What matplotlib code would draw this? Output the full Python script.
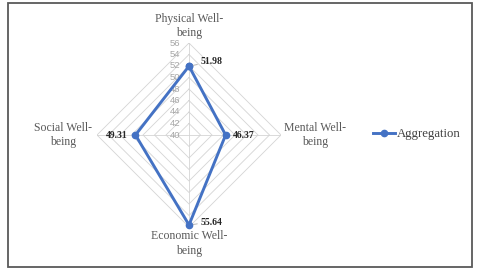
import matplotlib
matplotlib.use('Agg')
import matplotlib.pyplot as plt
from matplotlib.patches import Rectangle
import numpy as np

# data
categories = ['Physical Well-\nbeing', 'Mental Well-\nbeing',
              'Economic Well-\nbeing', 'Social Well-\nbeing']
values = [51.98, 46.37, 55.64, 49.31]
levels = [40, 42, 44, 46, 48, 50, 52, 54, 56]
series_name = 'Aggregation'

blue = '#4472C4'
grid_col = '#d4d4d4'
text_col = '#595959'
serif = ['Liberation Serif', 'DejaVu Serif']

n = len(categories)
angles = np.arange(n) * 2 * np.pi / n
closed = np.append(angles, angles[0])

fig = plt.figure(figsize=(4.8, 2.7), dpi=100)
ax = fig.add_axes([97/480, 43/270, 184/480, 184/270], projection='polar')
ax.set_theta_zero_location('N')
ax.set_theta_direction(-1)
ax.set_ylim(levels[0], levels[-1])
ax.grid(False)
ax.spines['polar'].set_visible(False)
ax.set_xticks([])
ax.set_yticks([])
ax.patch.set_alpha(0)

# diamond grid + spokes
for lev in levels[1:]:
    ax.plot(closed, [lev] * (n + 1), color=grid_col, lw=0.6, zorder=1)
for a in angles:
    ax.plot([a, a], [levels[0], levels[-1]], color=grid_col, lw=0.6, zorder=1)

# radial tick labels
for lev in levels:
    ax.annotate(str(lev), xy=(0, lev), xytext=(-6.5, 0), textcoords='offset points',
                ha='right', va='center', fontsize=6.8, color='#a6a6a6',
                family=['Liberation Sans', 'DejaVu Sans'])

# series
line, = ax.plot(closed, values + values[:1], color=blue, lw=2.1,
                marker='o', ms=4.5, zorder=3, clip_on=False, label=series_name)

# category labels
cat_pos = [((0, 3), 'center', 'bottom'), ((2, 0), 'left', 'center'),
           ((0, -2.5), 'center', 'top'), ((-3.5, 0), 'right', 'center')]
for a, cat, (off, ha, va) in zip(angles, categories, cat_pos):
    ax.annotate(cat, xy=(a, levels[-1]), xytext=off, textcoords='offset points',
                ha=ha, va=va, multialignment='center', fontsize=8.5,
                color=text_col, family=serif, linespacing=1.25)

# data labels
lab_pos = [((8, 3), 'left', 'center', True), ((5, 0), 'left', 'center', False),
           ((8, 2), 'left', 'center', True), ((-6, 0), 'right', 'center', False)]
for a, v, (off, ha, va, lead) in zip(angles, values, lab_pos):
    kw = {}
    if lead:
        kw['arrowprops'] = dict(arrowstyle='-', color='#a6a6a6', lw=0.6,
                                shrinkA=0, shrinkB=3)
    ax.annotate(f'{v:.2f}', xy=(a, v), xytext=off, textcoords='offset points',
                ha=ha, va=va, fontsize=7, fontweight='bold', color='#262626',
                family=serif, zorder=4, **kw)

fig.legend(handles=[line], loc='center left', bbox_to_anchor=(373/480, 1 - 134/270),
           frameon=False, borderpad=0, borderaxespad=0, handlelength=1.7,
           handletextpad=0.2, prop={'family': serif, 'size': 9.2},
           labelcolor='#404040')

# outer border
fig.patches.append(Rectangle((8/480, 3/270), 464/480, 264/270, transform=fig.transFigure,
                             fill=False, edgecolor='#595959', lw=1.3))

fig.savefig('out.png', dpi=100)
